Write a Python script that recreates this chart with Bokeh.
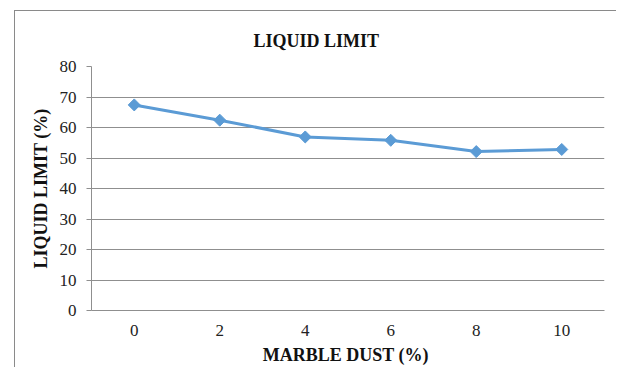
import math
from bokeh.plotting import figure
from bokeh.models import FactorRange, Range1d, FixedTicker, Title
from bokeh.embed import file_html
from bokeh.resources import INLINE

categories = ["0", "2", "4", "6", "8", "10"]
liquid_limit = [67.4, 62.4, 56.9, 55.8, 52.1, 52.8]
y_ticks = [0, 10, 20, 30, 40, 50, 60, 70, 80]

SERIF = "Liberation Serif"
LINE_BLUE = "#5B9BD5"
GRID = "#8f8f8f"

p = figure(
    width=602, height=357,
    margin=(11, 0, 0, 15),
    styles={"box-shadow": "-1px -1px 0px 0px #8a8a8a"},
    x_range=FactorRange(*categories),
    y_range=Range1d(0, 80),
    output_backend="svg", toolbar_location=None,
    min_border_left=76, min_border_right=13,
    min_border_top=55, min_border_bottom=58,
)
p.title = Title(text="LIQUID LIMIT", align="left", offset=162, standoff=31,
                text_font=SERIF, text_font_size="18px",
                text_font_style="bold", text_color="#111111")

p.outline_line_color = None
p.background_fill_color = "white"
p.border_fill_color = "white"

p.xgrid.grid_line_color = None
p.ygrid.grid_line_color = GRID
p.ygrid.grid_line_width = 1

p.yaxis.ticker = FixedTicker(ticks=y_ticks)
p.yaxis.axis_line_color = GRID
p.yaxis.major_tick_line_color = GRID
p.yaxis.major_tick_out = 5
p.yaxis.major_tick_in = 0
p.yaxis.minor_tick_line_color = None
p.yaxis.major_label_standoff = 10
p.yaxis.major_label_text_font = SERIF
p.yaxis.major_label_text_font_size = "17px"
p.yaxis.major_label_text_color = "#222222"
p.yaxis.axis_label = "LIQUID LIMIT (%)"
p.yaxis.axis_label_text_font = SERIF
p.yaxis.axis_label_text_font_size = "18px"
p.yaxis.axis_label_text_font_style = "bold"
p.yaxis.axis_label_text_color = "#111111"
p.yaxis.axis_label_standoff = 6

p.xaxis.axis_line_color = GRID
p.xaxis.major_tick_line_color = None
p.xaxis.minor_tick_line_color = None
p.xaxis.major_tick_out = 0
p.xaxis.major_label_standoff = 14
p.xaxis.major_label_text_font = SERIF
p.xaxis.major_label_text_font_size = "17px"
p.xaxis.major_label_text_color = "#222222"
p.xaxis.axis_label = "MARBLE DUST  (%)"
p.xaxis.axis_label_text_font = SERIF
p.xaxis.axis_label_text_font_size = "18px"
p.xaxis.axis_label_text_font_style = "bold"
p.xaxis.axis_label_text_color = "#111111"
p.xaxis.axis_label_standoff = 6

p.line(categories, liquid_limit, line_color=LINE_BLUE, line_width=3)
p.scatter(categories, liquid_limit, marker="square", angle=math.pi / 4,
          size=8.5, fill_color=LINE_BLUE, line_color=LINE_BLUE)

open("out.html", "w").write(file_html(p, INLINE))
